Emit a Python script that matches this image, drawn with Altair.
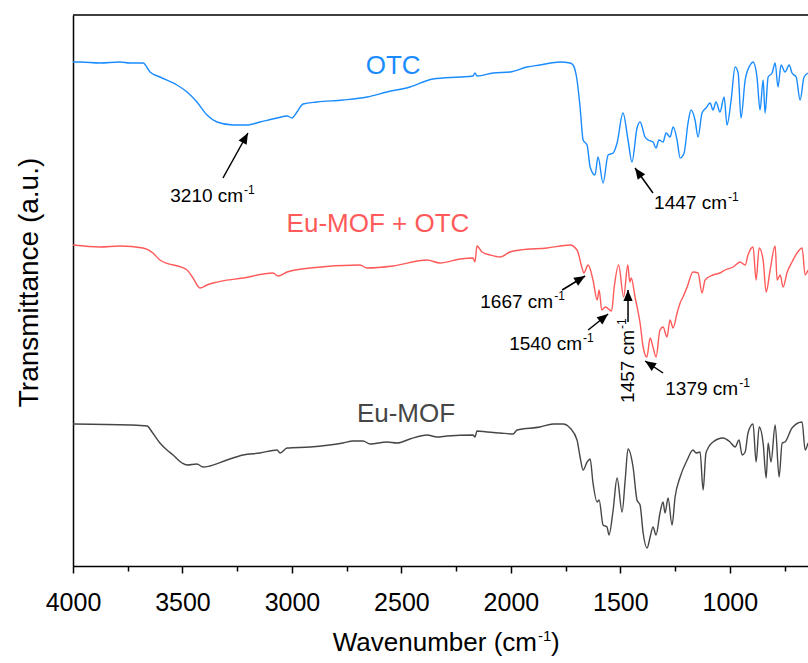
import math

import altair as alt
import pandas as pd

# ---------------------------------------------------------------------------
# FTIR spectra (wavenumber in cm-1, transmittance in arbitrary units, offset)
# ---------------------------------------------------------------------------
otc_wn = [4000, 3968, 3877, 3785, 3740, 3680, 3648, 3603, 3525, 3479,
          3434, 3388, 3342, 3269, 3205, 3146, 3068, 3022, 3000, 2977,
          2949, 2885, 2767, 2657, 2566, 2461, 2356, 2232, 2173, 2164,
          2155, 2081, 2004, 1926, 1867, 1775, 1730, 1716, 1698, 1684,
          1670, 1652, 1638, 1616, 1602, 1579, 1556, 1533, 1515, 1488,
          1465, 1447, 1424, 1410, 1387, 1373, 1351, 1337, 1324, 1305,
          1291, 1273, 1259, 1241, 1227, 1209, 1191, 1177, 1159, 1145,
          1127, 1109, 1090, 1077, 1063, 1045, 1026, 1013, 994, 976,
          962, 949, 930, 907, 894, 876, 862, 848, 839, 825,
          807, 793, 780, 766, 748, 729, 716, 697, 679, 661,
          643]
otc_t = [504, 504, 503, 504, 503, 503, 494, 489, 481, 474,
         464, 451, 444, 441, 441, 444, 448, 450, 448, 454,
         462, 464, 466, 469, 474, 479, 487, 489, 490, 493,
         490, 493, 494, 499, 501, 504, 503, 501, 486, 459,
         426, 421, 399, 391, 409, 383, 411, 413, 423, 453,
         426, 404, 438, 444, 429, 426, 424, 418, 426, 424,
         433, 429, 439, 426, 408, 413, 443, 456, 446, 429,
         453, 458, 463, 456, 464, 454, 469, 441, 466, 499,
         493, 448, 486, 501, 504, 489, 456, 486, 453, 489,
         493, 503, 479, 501, 494, 501, 493, 489, 466, 489,
         493]

mof_otc_wn = [4000, 3877, 3785, 3680, 3635, 3603, 3479, 3452, 3420, 3388,
              3360, 3223, 3086, 3064, 3022, 2917, 2689, 2657, 2538, 2383,
              2324, 2232, 2173, 2164, 2155, 2132, 2095, 2050, 2004, 1958,
              1835, 1730, 1698, 1675, 1667, 1647, 1625, 1606, 1597, 1585,
              1568, 1540, 1528, 1508, 1485, 1466, 1457, 1450, 1433, 1410,
              1396, 1379, 1364, 1351, 1337, 1319, 1305, 1287, 1273, 1259,
              1241, 1227, 1214, 1195, 1168, 1145, 1127, 1113, 1077, 1045,
              1022, 985, 953, 930, 917, 894, 880, 866, 848, 834,
              816, 793, 784, 770, 757, 738, 716, 693, 670, 656,
              643]
mof_otc_t = [321, 319, 320, 318, 313, 306, 296, 288, 278, 281,
             283, 288, 293, 290, 294, 298, 301, 298, 300, 306,
             303, 307, 308, 304, 320, 314, 311, 309, 314, 316,
             318, 321, 316, 298, 293, 301, 286, 266, 276, 256,
             259, 255, 279, 301, 269, 301, 284, 288, 269, 243,
             219, 209, 228, 219, 209, 236, 239, 229, 246, 238,
             253, 263, 269, 279, 294, 293, 273, 286, 291, 293,
             296, 299, 304, 301, 311, 319, 286, 318, 306, 274,
             296, 320, 286, 291, 279, 294, 304, 313, 318, 291,
             296]

mof_wn = [4000, 3740, 3662, 3639, 3603, 3571, 3543, 3502, 3479, 3434,
          3406, 3374, 3297, 3223, 3146, 3068, 3054, 3022, 2917, 2767,
          2721, 2675, 2643, 2566, 2520, 2461, 2383, 2337, 2292, 2173,
          2164, 2155, 2109, 2050, 1990, 1972, 1867, 1807, 1762, 1730,
          1698, 1684, 1670, 1652, 1638, 1625, 1606, 1597, 1579, 1561,
          1552, 1533, 1515, 1492, 1478, 1465, 1442, 1424, 1410, 1396,
          1378, 1364, 1351, 1337, 1319, 1305, 1296, 1282, 1264, 1250,
          1227, 1195, 1168, 1154, 1136, 1122, 1109, 1077, 1031, 999,
          976, 958, 944, 930, 917, 894, 880, 866, 848, 834,
          825, 812, 793, 775, 761, 748, 716, 670, 656, 643]
mof_t = [142, 141, 140, 134, 123, 116, 111, 103, 101, 102,
         99, 100, 106, 111, 113, 116, 113, 118, 119, 123,
         125, 125, 122, 124, 123, 127, 131, 129, 130, 131,
         129, 135, 134, 133, 132, 136, 139, 142, 142, 138,
         126, 109, 96, 104, 107, 83, 64, 66, 41, 39,
         31, 56, 88, 54, 86, 117, 99, 66, 61, 33,
         18, 29, 39, 31, 53, 64, 53, 68, 41, 69,
         89, 106, 116, 113, 114, 76, 113, 124, 128, 124,
         119, 126, 111, 114, 133, 142, 104, 139, 123, 88,
         123, 104, 141, 89, 123, 124, 138, 144, 116, 123]

series_names = ["OTC", "Eu-MOF + OTC", "Eu-MOF"]
series_colors = ["#1a8cff", "#ff5a5a", "#464646"]

# Sample name labels placed beside each trace
label_wn = [2538, 2607, 2479]
label_t = [492, 334, 144]

# Peak annotations: label, text anchor (end of "cm"), arrow tail and arrow tip
peak_labels = ["3210", "1447", "1667", "1540", "1457", "1379"]
peak_text_wn = [3223, 1013, 1807, 1675, 1437, 962]
peak_text_t = [364, 357, 258, 216, 236, 171]
peak_text_angle = [0, 0, 0, 0, 270, 0]
arrow_tail_wn = [3315, 1351, 1766, 1647, 1465, 1305]
arrow_tail_t = [388, 373, 276, 236, 244, 193]
arrow_tip_wn = [3201, 1433, 1661, 1556, 1465, 1387]
arrow_tip_t = [433, 398, 290, 252, 276, 205]

# ---------------------------------------------------------------------------
FONT = "Liberation Sans"
W, H = 735, 551
X_LO, X_HI = 643, 4000
Y_LO, Y_HI = 0, 551

spectra = pd.concat(
    [
        pd.DataFrame({"wavenumber": wn, "T": t, "sample": name})
        for name, wn, t in [
            ("OTC", otc_wn, otc_t),
            ("Eu-MOF + OTC", mof_otc_wn, mof_otc_t),
            ("Eu-MOF", mof_wn, mof_t),
        ]
    ],
    ignore_index=True,
)

labels_df = pd.DataFrame({"wavenumber": label_wn, "T": label_t, "sample": series_names})

# arrowhead direction (degrees clockwise from "up") in screen space
px_per_wn = W / (X_HI - X_LO)
px_per_t = H / (Y_HI - Y_LO)
head_angle = []
for tw, tt, hw, ht in zip(arrow_tail_wn, arrow_tail_t, arrow_tip_wn, arrow_tip_t):
    dx = -(hw - tw) * px_per_wn
    dy = -(ht - tt) * px_per_t
    head_angle.append(math.degrees(math.atan2(dx, -dy)) % 360)

peaks = pd.DataFrame({
    "main": [f"{p} cm" for p in peak_labels],
    "sup": ["-1"] * len(peak_labels),
    "text_wn": peak_text_wn,
    "text_t": peak_text_t,
    "text_angle": peak_text_angle,
    "tail_wn": arrow_tail_wn,
    "tail_t": arrow_tail_t,
    "tip_wn": arrow_tip_wn,
    "tip_t": arrow_tip_t,
    "head_angle": head_angle,
})

x_scale = alt.Scale(domain=[X_LO, X_HI], reverse=True, nice=False, zero=False)
y_scale = alt.Scale(domain=[Y_LO, Y_HI], nice=False, zero=False)
color_scale = alt.Scale(domain=series_names, range=series_colors)

x_axis = alt.Axis(
    values=list(range(750, 4001, 250)),
    labelExpr="datum.value % 500 === 0 ? datum.value : ''",
    tickSize={"condition": {"test": "datum.value % 500 === 0", "value": 7}, "value": 5},
    tickColor="black",
    tickWidth=1.5,
    domainColor="black",
    domainWidth=1.5,
    labelFont=FONT,
    labelFontSize=25,
    labelColor="black",
    labelPadding=17,
    labelOverlap=False,
    labelFlush=False,
    grid=False,
    title=None,
)
y_axis = alt.Axis(
    title="Transmittance (a.u.)",
    titleFont=FONT,
    titleFontSize=28,
    titleFontWeight="normal",
    titleColor="black",
    titlePadding=30,
    titleY=267,
    ticks=False,
    labels=False,
    domainColor="black",
    domainWidth=1.5,
    grid=False,
)

lines = alt.Chart(spectra).mark_line(
    strokeWidth=1.4, clip=True, interpolate="monotone"
).encode(
    x=alt.X("wavenumber:Q", scale=x_scale, axis=x_axis),
    y=alt.Y("T:Q", scale=y_scale, axis=y_axis),
    color=alt.Color("sample:N", scale=color_scale, legend=None),
)

top_frame = alt.Chart(pd.DataFrame({"k": [0]})).mark_rule(
    color="black", strokeWidth=1.5
).encode(x=alt.value(0), x2=alt.value(W), y=alt.value(0))

names = alt.Chart(labels_df).mark_text(
    font=FONT, fontSize=26, align="center", baseline="alphabetic"
).encode(
    x=alt.X("wavenumber:Q", scale=x_scale),
    y=alt.Y("T:Q", scale=y_scale),
    text="sample:N",
    color=alt.Color("sample:N", scale=color_scale, legend=None),
)

peak_base = alt.Chart(peaks)

peak_main = peak_base.mark_text(
    font=FONT, fontSize=19, align="right", baseline="alphabetic", color="black"
).encode(
    x=alt.X("text_wn:Q", scale=x_scale),
    y=alt.Y("text_t:Q", scale=y_scale),
    text="main:N",
    angle=alt.Angle("text_angle:Q", scale=None),
)
peak_sup = peak_base.mark_text(
    font=FONT, fontSize=12, align="left", baseline="alphabetic", color="black",
    dx=1, dy=-8,
).encode(
    x=alt.X("text_wn:Q", scale=x_scale),
    y=alt.Y("text_t:Q", scale=y_scale),
    text="sup:N",
    angle=alt.Angle("text_angle:Q", scale=None),
)

shafts = peak_base.mark_rule(color="black", strokeWidth=1.5).encode(
    x=alt.X("tail_wn:Q", scale=x_scale),
    x2="tip_wn:Q",
    y=alt.Y("tail_t:Q", scale=y_scale),
    y2="tip_t:Q",
)
heads = peak_base.mark_point(
    shape="M0,0L0.42,1L-0.42,1Z", filled=True, size=484, color="black", opacity=1
).encode(
    x=alt.X("tip_wn:Q", scale=x_scale),
    y=alt.Y("tip_t:Q", scale=y_scale),
    angle=alt.Angle("head_angle:Q", scale=None),
)

# x-axis title with a superscript exponent
title_df = pd.DataFrame({"k": [0]})
TX, TY = 464, 636
x_title_main = alt.Chart(title_df).mark_text(
    font=FONT, fontSize=26, align="right", baseline="alphabetic", color="black"
).encode(x=alt.value(TX), y=alt.value(TY), text=alt.value("Wavenumber (cm"))
x_title_sup = alt.Chart(title_df).mark_text(
    font=FONT, fontSize=15, align="left", baseline="alphabetic", color="black",
    dx=1, dy=-10,
).encode(x=alt.value(TX), y=alt.value(TY), text=alt.value("-1"))
x_title_end = alt.Chart(title_df).mark_text(
    font=FONT, fontSize=26, align="left", baseline="alphabetic", color="black",
    dx=14,
).encode(x=alt.value(TX), y=alt.value(TY), text=alt.value(")"))

chart = alt.layer(
    lines, top_frame, names, shafts, heads, peak_main, peak_sup,
    x_title_main, x_title_sup, x_title_end,
).properties(
    width=W,
    height=H,
    autosize=alt.AutoSizeParams(type="none"),
    padding={"left": 73, "top": 15, "right": 0, "bottom": 97},
    background="white",
).configure_view(stroke=None)

chart.save("out.html", embed_options={"renderer": "svg", "actions": False})
